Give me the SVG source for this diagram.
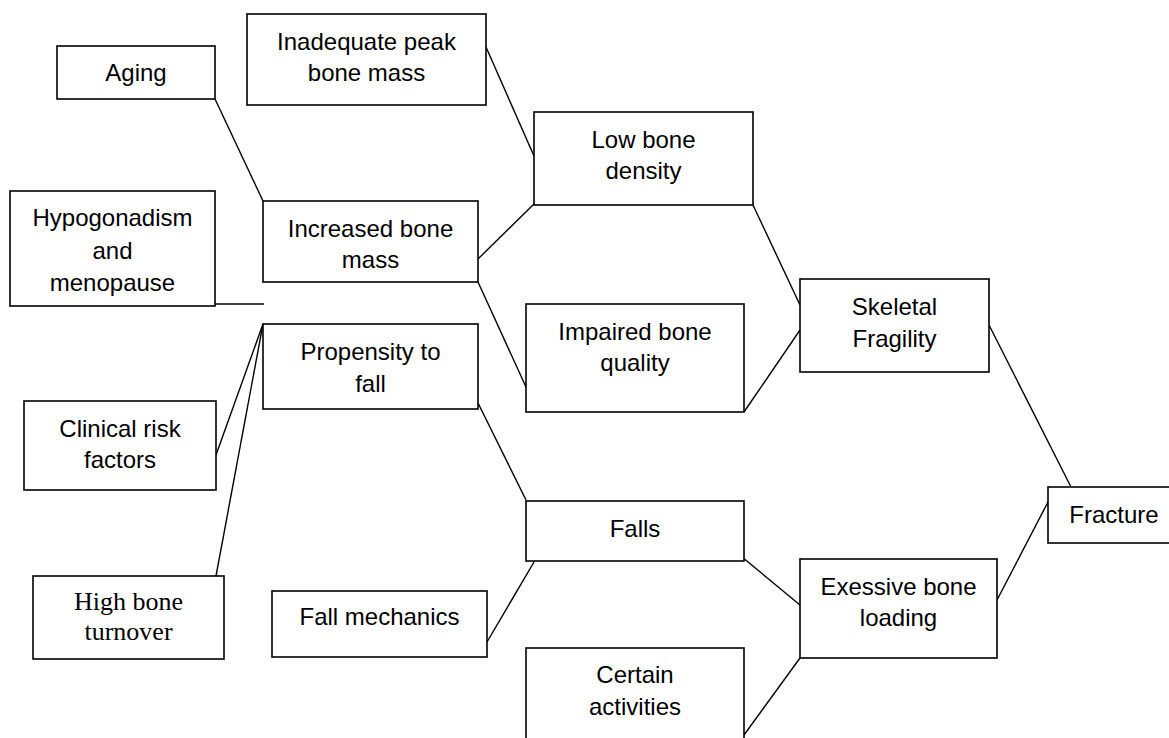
<svg xmlns="http://www.w3.org/2000/svg" width="1169" height="738" viewBox="0 0 1169 738">
<style>
.box{fill:#fff;stroke:#000;stroke-width:1.6}
.t{font-family:"Liberation Sans",Arial,sans-serif;font-size:24px;fill:#000;text-anchor:middle}
.s{font-family:"Liberation Serif","Times New Roman",serif;font-size:26px;fill:#000;text-anchor:middle}
.c line{stroke:#000;stroke-width:1.4}
</style>
<rect width="1169" height="738" fill="#fff"/>
<g class="c" id="connectors">
<line x1="215" y1="99" x2="263" y2="201"/>
<line x1="215" y1="304" x2="264" y2="304"/>
<line x1="486" y1="47" x2="534" y2="156"/>
<line x1="478" y1="259" x2="534" y2="204"/>
<line x1="478" y1="282" x2="526" y2="387"/>
<line x1="753" y1="205" x2="800" y2="305"/>
<line x1="744" y1="412" x2="800" y2="330"/>
<line x1="989" y1="325" x2="1071" y2="487"/>
<line x1="216" y1="455" x2="263" y2="324"/>
<line x1="216" y1="576" x2="263" y2="324"/>
<line x1="478" y1="403" x2="526" y2="500"/>
<line x1="487" y1="642" x2="534" y2="562"/>
<line x1="742" y1="557" x2="800" y2="605"/>
<line x1="744" y1="735" x2="800" y2="658"/>
<line x1="997" y1="600" x2="1048" y2="502"/>
</g>
<g id="inadequate"><rect class="box" x="247" y="14" width="239" height="91"/><text class="t" x="366.5" y="50">Inadequate peak</text><text class="t" x="366.5" y="81">bone mass</text></g>
<g id="aging"><rect class="box" x="57" y="46" width="158" height="53"/><text class="t" x="136" y="81">Aging</text></g>
<g id="hypogonadism"><rect class="box" x="10" y="191" width="205" height="115"/><text class="t" x="112.5" y="226">Hypogonadism</text><text class="t" x="112.5" y="259">and</text><text class="t" x="112.5" y="291">menopause</text></g>
<g id="increased"><rect class="box" x="263" y="201" width="215" height="81"/><text class="t" x="370.5" y="237">Increased bone</text><text class="t" x="370.5" y="268">mass</text></g>
<g id="lowdensity"><rect class="box" x="534" y="112" width="219" height="93"/><text class="t" x="643.5" y="148">Low bone</text><text class="t" x="643.5" y="179">density</text></g>
<g id="impaired"><rect class="box" x="526" y="304" width="218" height="108"/><text class="t" x="635" y="340">Impaired bone</text><text class="t" x="635" y="371">quality</text></g>
<g id="skeletal"><rect class="box" x="800" y="279" width="189" height="93"/><text class="t" x="894.5" y="315">Skeletal</text><text class="t" x="894.5" y="347">Fragility</text></g>
<g id="propensity"><rect class="box" x="263" y="324" width="215" height="85"/><text class="t" x="370.5" y="360">Propensity to</text><text class="t" x="370.5" y="392">fall</text></g>
<g id="clinical"><rect class="box" x="24" y="401" width="192" height="89"/><text class="t" x="120" y="437">Clinical risk</text><text class="t" x="120" y="468">factors</text></g>
<g id="highturnover"><rect class="box" x="33" y="576" width="191" height="83"/><text class="s" x="128.5" y="610">High bone</text><text class="s" x="128.5" y="640">turnover</text></g>
<g id="fallmechanics"><rect class="box" x="272" y="591" width="215" height="66"/><text class="t" x="379.5" y="625">Fall mechanics</text></g>
<g id="falls"><rect class="box" x="526" y="501" width="218" height="60"/><text class="t" x="635" y="537">Falls</text></g>
<g id="excessive"><rect class="box" x="800" y="559" width="197" height="99"/><text class="t" x="898.5" y="595">Exessive bone</text><text class="t" x="898.5" y="626">loading</text></g>
<g id="certain"><rect class="box" x="526" y="648" width="218" height="110"/><text class="t" x="635" y="683">Certain</text><text class="t" x="635" y="715">activities</text></g>
<g id="fracture"><rect class="box" x="1048" y="487" width="140" height="56"/><text class="t" x="1114" y="523">Fracture</text></g>
</svg>
